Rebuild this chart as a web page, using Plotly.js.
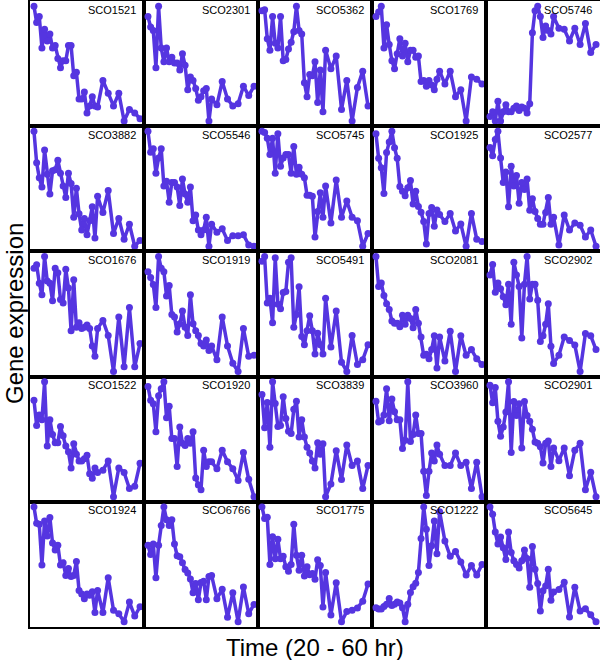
<!DOCTYPE html>
<html>
<head>
<meta charset="utf-8">
<script src="https://cdn.plot.ly/plotly-3.0.1.min.js"></script>
<style>
  html, body { margin: 0; padding: 0; background: #fff; }
  #plot { width: 600px; height: 660px; }
</style>
</head>
<body>
<div id="plot"></div>
<script>
// sampling times (hr): hourly up to 44 h, then every 2 h
const hours = [20,21,22,23,24,25,26,27,28,29,30,31,32,33,34,35,36,37,38,39,40,41,42,43,44,46,48,50,52,54,56,58,60];

const geneNames = [
  'SCO1521','SCO2301','SCO5362','SCO1769','SCO5746',
  'SCO3882','SCO5546','SCO5745','SCO1925','SCO2577',
  'SCO1676','SCO1919','SCO5491','SCO2081','SCO2902',
  'SCO1522','SCO1920','SCO3839','SCO3960','SCO2901',
  'SCO1924','SCO6766','SCO1775','SCO1222','SCO5645'
];

// relative expression (0 = panel min, 100 = panel max)
const sco1521 = [100,86,91,64,80,70,76,64,66,55,47,53,53,66,66,40,43,20,20,26,8,14,22,14,13,36,25,14,25,1,11,8,3];
const sco2301 = [91,82,79,47,100,64,52,64,52,56,51,51,45,59,49,28,39,36,29,19,22,27,29,1,20,15,35,20,14,16,31,23,31];
const sco5362 = [96,97,72,62,91,68,64,91,53,54,63,69,78,100,79,76,34,22,41,40,52,17,45,9,62,46,57,11,36,1,30,44,14];
const sco1769 = [91,95,100,64,84,67,53,46,59,72,57,68,52,62,62,56,57,35,36,31,36,32,28,37,44,33,44,22,28,1,39,37,33];
const sco5746 = [5,9,1,18,1,9,15,9,9,12,14,10,13,12,8,16,77,96,100,91,73,83,79,76,91,81,80,70,81,67,85,60,67];

const sco3882 = [100,73,60,52,84,63,46,66,67,75,64,53,43,64,55,26,51,29,15,25,11,23,35,8,44,30,49,12,25,7,20,1,6];
const sco5546 = [100,82,85,64,77,85,53,57,39,56,56,52,36,59,46,39,52,23,28,15,11,15,26,1,20,13,16,6,10,10,11,2,1];
const sco5745 = [100,99,94,80,94,64,98,70,77,80,80,64,87,63,69,63,60,45,45,44,9,31,47,26,53,21,58,26,40,26,23,1,12];
const sco1925 = [98,77,69,47,82,91,100,86,77,53,49,45,52,58,38,49,36,31,23,4,30,35,19,33,29,23,30,15,21,2,30,8,6];
const sco2577 = [86,79,93,100,77,56,65,35,70,53,62,38,56,50,59,32,42,31,25,20,20,30,43,20,26,2,28,15,21,19,9,15,1];

const sco1676 = [90,93,77,67,100,79,77,62,90,86,63,60,89,73,36,80,39,43,38,39,41,38,23,14,38,45,32,1,48,5,56,5,25];
const sco1919 = [87,82,76,56,100,90,87,66,75,50,48,35,42,53,39,32,67,42,36,32,25,23,28,19,23,11,48,23,8,1,38,14,15];
const sco5491 = [96,100,60,64,43,99,59,55,69,70,95,99,39,50,74,31,24,36,49,36,16,34,24,16,64,22,53,9,1,32,7,11,24];
const sco2081 = [100,74,77,66,59,54,44,42,42,39,49,41,49,46,38,54,42,30,14,15,11,19,31,3,30,9,35,0,31,14,19,11,6];
const sco2902 = [84,93,69,77,72,65,58,76,41,95,84,74,29,76,100,63,76,76,62,26,31,41,59,22,7,14,30,27,23,0,33,31,19];

const sco1522 = [84,62,71,67,100,44,67,54,47,47,61,53,44,39,25,46,37,31,31,33,36,20,16,25,21,23,31,0,25,21,7,9,29];
const sco1920 = [96,84,81,57,88,94,100,69,79,51,51,27,61,47,45,51,47,57,17,11,7,41,27,31,31,25,41,31,25,15,39,16,1];
const sco3839 = [89,60,82,43,100,81,61,62,87,68,57,55,76,83,52,67,52,43,38,31,25,47,37,46,0,11,40,15,45,27,31,7,27];
const sco3960 = [83,65,66,71,94,66,85,74,67,67,42,49,100,48,54,71,55,55,22,1,22,38,31,45,37,27,27,38,27,30,7,30,0];
const sco2901 = [97,82,95,66,53,61,74,100,39,83,71,81,43,83,71,66,59,48,47,44,30,47,49,27,43,32,43,19,41,47,7,22,1];

const sco1924 = [100,86,85,50,88,75,91,69,63,67,50,52,41,47,40,41,53,28,25,21,25,24,27,9,28,9,39,11,8,1,18,6,14];
const sco6766 = [67,59,68,39,67,84,100,89,84,89,68,58,57,52,46,43,38,26,34,20,35,36,20,40,41,21,29,5,26,1,31,8,16];
const sco1775 = [100,90,91,50,74,55,72,55,57,48,44,50,85,58,45,58,40,48,41,42,37,54,49,13,43,6,34,0,9,10,12,18,33];
const sco1222 = [13,12,12,14,16,21,15,16,18,17,13,1,16,26,31,34,43,72,99,80,49,66,87,59,95,70,57,61,52,41,49,41,50];
const sco5645 = [100,94,79,69,75,66,56,79,62,55,52,49,55,64,57,33,67,48,36,13,30,34,48,22,29,31,37,8,33,13,15,10,4];

const panelSeries = [
  sco1521, sco2301, sco5362, sco1769, sco5746,
  sco3882, sco5546, sco5745, sco1925, sco2577,
  sco1676, sco1919, sco5491, sco2081, sco2902,
  sco1522, sco1920, sco3839, sco3960, sco2901,
  sco1924, sco6766, sco1775, sco1222, sco5645
];

const nCols = 5, nRows = 5;
const lineColor = '#5535e0';

const traces = [];
const layout = {
  width: 600,
  height: 660,
  margin: { l: 30, r: 0, t: 1, b: 33 },
  paper_bgcolor: '#fff',
  plot_bgcolor: '#fff',
  showlegend: false,
  font: { family: 'Arial, "Liberation Sans", sans-serif', color: '#000' },
  annotations: []
};

panelSeries.forEach((vals, k) => {
  const s = k === 0 ? '' : String(k + 1);
  const row = Math.floor(k / nCols);
  const col = k % nCols;

  traces.push({
    x: hours,
    y: vals,
    xaxis: 'x' + s,
    yaxis: 'y' + s,
    type: 'scatter',
    mode: 'lines+markers',
    line: { color: lineColor, width: 3.5 },
    marker: { color: lineColor, size: 7 },
    cliponaxis: false,
    hoverinfo: 'x+y'
  });

  const lo = Math.min(...vals), hi = Math.max(...vals);
  const pad = (hi - lo) * 0.045;

  const axisCommon = {
    showline: true,
    mirror: true,
    linecolor: '#000',
    linewidth: 2,
    showgrid: false,
    zeroline: false,
    showticklabels: false,
    ticks: '',
    fixedrange: true
  };

  layout['xaxis' + s] = Object.assign({}, axisCommon, {
    domain: [col / nCols, (col + 1) / nCols],
    range: [18.5, 61.5],
    anchor: 'y' + s
  });
  layout['yaxis' + s] = Object.assign({}, axisCommon, {
    domain: [1 - (row + 1) / nRows, 1 - row / nRows],
    range: [lo - pad, hi + pad],
    anchor: 'x' + s
  });

  layout.annotations.push({
    text: geneNames[k],
    xref: 'x' + s + ' domain',
    yref: 'y' + s + ' domain',
    x: 0.945,
    y: 0.995,
    xanchor: 'right',
    yanchor: 'top',
    showarrow: false,
    font: { size: 11, color: '#000' }
  });
});

// shared axis labels
layout.annotations.push({
  text: 'Time (20 - 60 hr)',
  xref: 'paper', yref: 'paper',
  x: 0.5, y: 0,
  xanchor: 'center', yanchor: 'top',
  yshift: -5,
  showarrow: false,
  font: { size: 24, color: '#000' }
});
layout.annotations.push({
  text: 'Gene expression',
  xref: 'paper', yref: 'paper',
  x: -0.028, y: 0.5,
  xanchor: 'center', yanchor: 'middle',
  textangle: -90,
  showarrow: false,
  font: { size: 24, color: '#000' }
});

Plotly.newPlot('plot', traces, layout, { displayModeBar: false, staticPlot: true });
</script>
</body>
</html>
